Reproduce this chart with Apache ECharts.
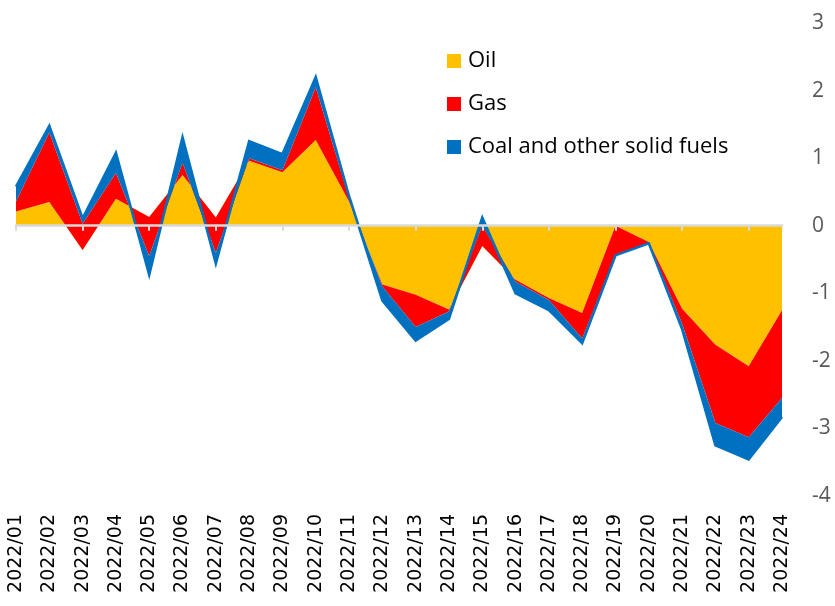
<!DOCTYPE html>
<html>
<head>
<meta charset="utf-8">
<script src="https://cdn.jsdelivr.net/npm/echarts@6/dist/echarts.min.js"></script>
<style>
html, body { margin: 0; padding: 0; background: #fff; }
#main { width: 835px; height: 606px; }
</style>
</head>
<body>
<div id="main"></div>
<script>
// categories
var months = ['2022/01','2022/02','2022/03','2022/04','2022/05','2022/06','2022/07','2022/08',
  '2022/09','2022/10','2022/11','2022/12','2022/13','2022/14','2022/15','2022/16',
  '2022/17','2022/18','2022/19','2022/20','2022/21','2022/22','2022/23','2022/24'];
// contributions, stacked in this order
var oil  = [0.21, 0.35, -0.36, 0.40, 0.13, 0.75, 0.12, 0.96, 0.79, 1.27, 0.36, -0.87,
  -1.02, -1.24, -0.30, -0.80, -1.07, -1.29, 0.00, -0.24, -1.23, -1.76, -2.08, -1.25];
var gas  = [0.15, 1.03, 0.39, 0.38, -0.58, 0.18, -0.52, 0.04, 0.03, 0.78, 0.04, -0.03,
  -0.48, -0.03, 0.30, -0.03, -0.03, -0.38, -0.43, -0.01, -0.22, -1.16, -1.05, -1.30];
var coal = [0.22, 0.10, 0.08, 0.30, -0.28, 0.38, -0.16, 0.25, 0.24, 0.15, 0.04, -0.21,
  -0.20, -0.11, 0.12, -0.17, -0.15, -0.07, -0.01, -0.01, -0.08, -0.33, -0.33, -0.28];
var seriesNames = ['Oil', 'Gas', 'Coal and other solid fuels'];
var seriesColors = ['#FFC000', '#FF0000', '#0070C0'];

var myChart = echarts.init(document.getElementById('main'));

function areaSeries(idx, values, border) {
  return {
    name: seriesNames[idx],
    type: 'line',
    stack: 'total',
    stackStrategy: 'all',
    data: values,
    symbol: 'none',
    color: seriesColors[idx],
    lineStyle: { width: border, color: seriesColors[idx], join: 'miter' },
    areaStyle: { color: seriesColors[idx], opacity: 1 },
    xAxisIndex: 0
  };
}

var option = {
  animation: false,
  legend: {
    orient: 'vertical',
    left: 447,
    top: 50,
    padding: 0,
    icon: 'rect',
    itemWidth: 14,
    itemHeight: 14,
    itemGap: 21,
    textStyle: { fontFamily: 'Open Sans', fontSize: 22, color: '#000', lineHeight: 20, padding: [0, 0, 0, 2] },
    data: seriesNames
  },
  grid: { left: 16, right: 53, top: 23, bottom: 110 },
  xAxis: [{
    type: 'category',
    data: months,
    boundaryGap: false,
    position: 'bottom',
    axisLine: { show: false, onZero: false },
    axisTick: { show: false },
    axisLabel: {
      rotate: 90,
      margin: 18,
      fontFamily: 'DejaVu Sans',
      fontSize: 19,
      color: '#000'
    }
  }, {
    // zero line with ticks
    type: 'category',
    data: months,
    boundaryGap: false,
    position: 'bottom',
    z: 10,
    axisLine: { show: true, onZero: true, lineStyle: { color: '#D9D9D9', width: 2.5 } },
    axisTick: { show: true, length: 5, lineStyle: { color: '#D9D9D9', width: 2 } },
    axisLabel: { show: false }
  }],
  yAxis: {
    type: 'value',
    position: 'right',
    min: -4,
    max: 3,
    interval: 1,
    axisLine: { show: false },
    axisTick: { show: false },
    splitLine: { show: false },
    axisLabel: {
      margin: 30,
      align: 'left',
      fontFamily: 'Open Sans',
      fontSize: 21,
      color: '#595959'
    }
  },
  series: [areaSeries(0, oil, 0), areaSeries(1, gas, 0), areaSeries(2, coal, 2.5)]
};
myChart.setOption(option);
</script>
</body>
</html>
